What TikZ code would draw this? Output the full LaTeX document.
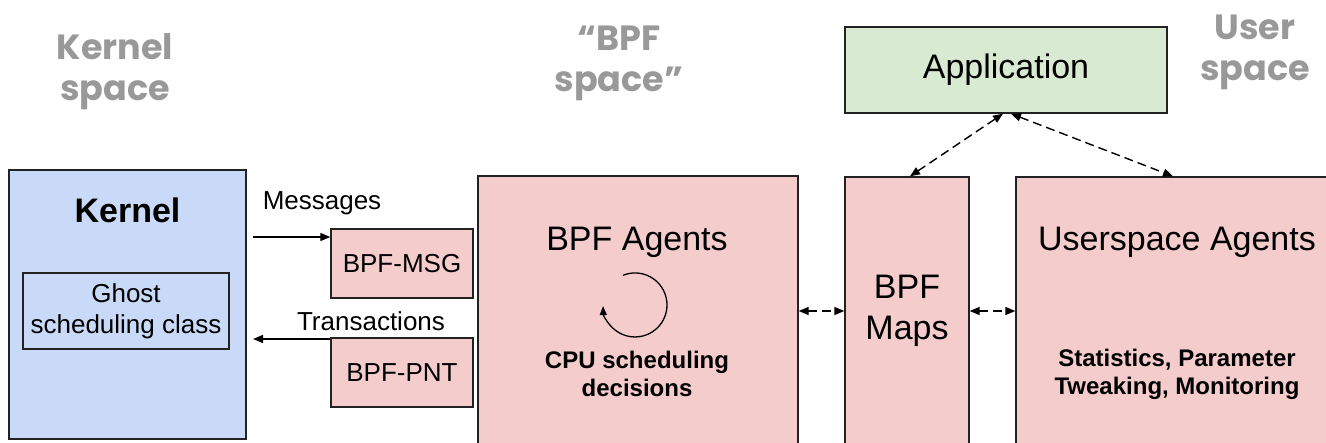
\documentclass[tikz,border=0pt]{standalone}
\usepackage{fontspec}
\setmainfont{Liberation Sans}
\newfontfamily\labelfont{Poppins}
\usetikzlibrary{arrows.meta,calc}
\definecolor{kernelblue}{HTML}{C9DAF8}
\definecolor{bpfpink}{HTML}{F4CCCC}
\definecolor{appgreen}{HTML}{D9EAD3}
\definecolor{spacegray}{HTML}{999999}
\definecolor{edge}{HTML}{222222}
\begin{document}
\begin{tikzpicture}[x=1pt,y=-1pt,
  box/.style={draw=edge,line width=1.4pt,inner sep=0pt,anchor=center},
  bluebox/.style={box,fill=kernelblue},
  pinkbox/.style={box,fill=bpfpink},
  greenbox/.style={box,fill=appgreen},
  bigtext/.style={font=\fontsize{34}{41}\selectfont,inner sep=0pt,align=center},
  midtext/.style={font=\fontsize{26}{31}\selectfont,inner sep=0pt,align=center},
  boldtext/.style={font=\bfseries\fontsize{24}{28}\selectfont,inner sep=0pt,align=center},
  spacelabel/.style={font=\labelfont\bfseries\fontsize{35}{41}\selectfont,text=spacegray,inner sep=0pt,align=center},
  link/.style={line width=1.3pt,-{Triangle[length=10pt,width=8pt]}},
  dlink/.style={line width=1.4pt,dash pattern=on 9pt off 5pt,{Triangle[length=10pt,width=8pt]}-{Triangle[length=10pt,width=8pt]}}
]
\useasboundingbox (0,0) rectangle (1326,443);
\clip (0,0) rectangle (1326,443);

% region labels
\node[spacelabel] (kspace) at (115,72) {Kernel\\space};
\node[spacelabel] (bspace) at (619,63) {“BPF\\space”};
\node[spacelabel] (uspace) at (1255,52) {User\\space};

% kernel side
\node[bluebox,minimum width=237pt,minimum height=269pt] (kernel) at (127.5,304.5) {};
\node[bigtext,font=\bfseries\fontsize{34}{41}\selectfont] (kernelT) at (127.5,210) {Kernel};
\node[bluebox,minimum width=206pt,minimum height=76pt,midtext] (ghost) at (126,311) {Ghost\\scheduling class};

% message queues
\node[pinkbox,minimum width=142pt,minimum height=69pt,midtext] (msg) at (402,263.5) {BPF-MSG};
\node[pinkbox,minimum width=142pt,minimum height=69pt,midtext] (pnt) at (402,372.5) {BPF-PNT};
\node[midtext] (msgL) at (322,203) {Messages};
\node[midtext] (trL) at (371,321) {Transactions};

% BPF agents
\node[pinkbox,minimum width=320pt,minimum height=284pt] (agents) at (638,318) {};
\node[bigtext] (agentsT) at (637,242) {BPF Agents};
\node[boldtext] (cpu) at (637,374) {CPU scheduling\\decisions};
\coordinate (loopc) at (635,305);

% BPF maps
\node[pinkbox,minimum width=124pt,minimum height=283pt] (maps) at (907,318.5) {};
\node[bigtext] (mapsT) at (907,311) {BPF\\Maps};

% userspace agents
\node[pinkbox,minimum width=314pt,minimum height=283pt] (user) at (1173,318.5) {};
\node[bigtext] (userT) at (1177,242) {Userspace Agents};
\node[boldtext] (stats) at (1177,374) {Statistics, Parameter\\Tweaking, Monitoring};

% application
\node[greenbox,minimum width=322pt,minimum height=86pt,bigtext] (app) at (1006,70) {Application};

% connectors
\coordinate (mrow) at (253,237);
\coordinate (trow) at (253,339);
\coordinate (brow) at (0,311);
\draw[link] (mrow) -- (mrow -| msg.west);
\draw[link] (trow -| pnt.west) -- (trow);
\draw[dlink] (brow -| agents.east) -- (brow -| maps.west);
\draw[dlink] (brow -| maps.east) -- (brow -| user.west);
\draw[dlink] ([xshift=-3pt]app.south) -- ([xshift=3pt]maps.north);
\draw[dlink] ([xshift=5pt]app.south) -- (user.north);

% scheduling loop: clockwise on the page, open at the upper left
\draw[line width=1.3pt,-{Triangle[length=9pt,width=7pt]}]
  ($(loopc)+(-12,-29.7)$) arc[start angle=-112,end angle=178,radius=32];
\end{tikzpicture}
\end{document}
